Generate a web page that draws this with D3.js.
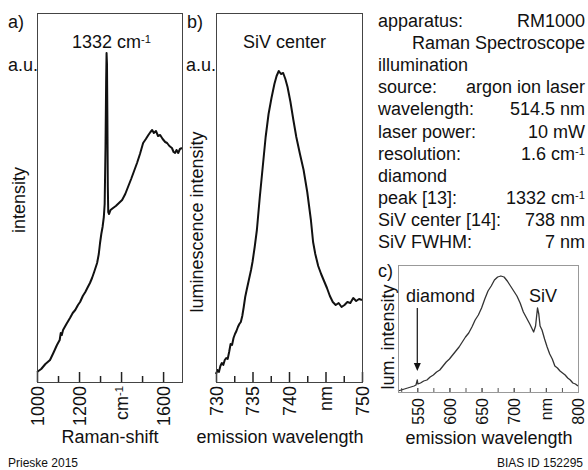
<!doctype html>
<html>
<head>
<meta charset="utf-8">
<script src="https://cdnjs.cloudflare.com/ajax/libs/d3/7.8.5/d3.min.js"></script>
<style>
body { margin: 0; background: #fff; }
svg { display: block; font-family: "Liberation Sans", Arial, sans-serif; }
</style>
</head>
<body>
<div id="viz"></div>
<script>
// a) Raman spectrum
var ramanShift = [1000,1020,1040,1062,1080,1095,1108,1113,1118,1124,1140,1157,1170,1182,1195,1205,1218,1230,1242,1252,1262,1272,1286,1294,1300,1306,1312,1318,1322,1326,1329,1331,1333,1335,1337,1339,1343,1350,1362,1375,1390,1405,1420,1433,1448,1462,1476,1490,1505,1518,1530,1540,1548,1556,1566,1576,1586,1598,1610,1619,1630,1642,1650,1657,1664,1672,1680,1690];
var ramanInt   = [10,13,18,22,30,37,42,49,47,52,58,64,69,72,77,80,86,90,95,99,104,110,119,128,139,148,155,165,178,235,300,329,318,262,195,170,168,172,174,176,179,182,188,195,203,211,219,228,239,243,247,250,252,249,251,246,247,243,240,239,236,234,230,229,232,229,233,234];
var ramanMajor = [1000, 1200, 1400, 1600];
var ramanMajorLabels = ["1000", "1200", "cm-1", "1600"];
var ramanMinor = [1100, 1300, 1500];

// b) SiV emission
var sivWl  = [730.0,730.2,730.4,730.6,730.8,731.0,731.2,731.4,731.6,731.8,732.0,732.2,732.4,732.6,732.8,733.0,733.2,733.4,733.6,733.8,734.0,734.2,734.5,734.8,735.0,735.3,735.6,736.0,736.4,736.8,737.2,737.6,738.0,738.3,738.6,738.9,739.2,739.5,739.8,740.2,740.6,741.0,741.5,742.0,742.5,743.0,743.3,743.6,744.0,744.4,744.8,745.2,745.6,746.0,746.4,746.8,747.2,747.6,748.0,748.4,748.8,749.2,749.6,750.0];
var sivInt = [8,12,10,16,19,17,22,24,23,30,38,37,44,48,51,55,58,60,66,75,85,92,102,112,120,135,152,185,215,245,268,284,298,306,311,308,309,303,295,280,262,245,228,212,190,162,140,128,116,108,101,94,86,80,77,79,75,77,80,79,84,81,83,82];
var sivMajor = [730, 735, 740, 745, 750];
var sivMajorLabels = ["730", "735", "740", "nm", "750"];
var sivMinor = [732.5, 737.5, 742.5, 747.5];

// c) broad luminescence
var lumWl  = [520,525,530,535,540,545,548,550,551,555,560,565,570,575,580,585,590,595,600,605,610,615,620,625,630,635,640,645,650,655,660,665,670,675,680,685,690,695,700,705,710,715,720,725,728,731,734,737,739,741,744,748,752,756,760,764,768,772,776,780,784,788,792,796,800];
var lumInt = [1,2,3,4,5,6,7,12,8,9,11,12,15,17,20,22,26,30,33,37,41,45,50,55,59,65,72,77,84,93,101,106,112,115,116,115,111,106,101,96,89,80,74,68,64,60,66,84,78,66,62,53,45,38,33,26,24,21,19,17,14,12,9,8,6];
var lumTicks = [525,550,575,600,625,650,675,700,725,750,775,800];
var lumMajor = [550, 600, 650, 700, 750, 800];
var lumMajorLabels = ["550", "600", "650", "700", "nm", "800"];

// parameter table
var paramLabels = ["apparatus:", "", "illumination", "source:", "wavelength:", "laser power:", "resolution:", "diamond", "peak [13]:", "SiV center [14]:", "SiV FWHM:"];
var paramValues = ["RM1000", "Raman Spectroscope", "", "argon ion laser", "514.5 nm", "10 mW", "1.6 cm-1", "", "1332 cm-1", "738 nm", "7 nm"];

var W = 588, H = 470;
var svg = d3.select("#viz").append("svg").attr("width", W).attr("height", H);
svg.append("rect").attr("width", W).attr("height", H).attr("fill", "#fff");

// writes "xxx cm-1" with a raised -1
function supText(sel, s) {
  var m = s.match(/^(.*)-1$/);
  if (!m) { sel.text(s); return; }
  sel.text(m[1]);
  sel.append("tspan").attr("dy", "-0.45em").attr("font-size", "0.62em").text("-1");
}

function panel(o) {
  var x = d3.scaleLinear().domain(o.xd).range([o.l, o.r]);
  var y = d3.scaleLinear().domain(o.yd).range([o.b, o.t]);

  var minor = d3.axisBottom(x).tickValues(o.minor).tickSize(-o.minorLen).tickFormat("");
  svg.append("g").attr("transform", "translate(0," + o.b + ")").call(minor)
    .call(function (g) { g.select(".domain").remove(); })
    .attr("color", o.tickColor).selectAll("line").attr("stroke-width", o.tickW);

  var major = d3.axisBottom(x).tickValues(o.major).tickSize(-o.majorLen)
    .tickFormat(function (d, i) { return o.labels[i]; });
  var ax = svg.append("g").attr("transform", "translate(0," + o.b + ")").call(major)
    .call(function (g) { g.select(".domain").remove(); })
    .attr("color", o.tickColor).attr("font-size", o.labelSize)
    .attr("font-family", "Liberation Sans, Arial, sans-serif");
  ax.selectAll("line").attr("stroke-width", o.tickW);
  ax.selectAll("text")
    .attr("fill", "#111")
    .attr("transform", "rotate(-90)")
    .attr("x", -o.labelGap).attr("y", 0).attr("dy", "0.36em")
    .attr("text-anchor", "end")
    .each(function (d, i) { supText(d3.select(this), o.labels[i]); });

  var line = d3.line().x(function (d) { return x(d[0]); }).y(function (d) { return y(d[1]); });
  svg.append("path").datum(d3.zip(o.xs, o.ys))
    .attr("d", line).attr("fill", "none")
    .attr("stroke", o.lineColor).attr("stroke-width", o.lineW)
    .attr("stroke-linejoin", "round");

  svg.append("rect")
    .attr("x", o.l + 0.5).attr("y", o.t + 0.5)
    .attr("width", o.r - o.l).attr("height", o.b - o.t)
    .attr("fill", "none").attr("stroke", o.frame).attr("stroke-width", 1);
  return x;
}

panel({ xd: [1000, 1690], yd: [0, 369], l: 37, r: 182, t: 13, b: 382,
  xs: ramanShift, ys: ramanInt, major: ramanMajor, labels: ramanMajorLabels, minor: ramanMinor,
  majorLen: 10, minorLen: 6, tickW: 1.5, tickColor: "#222", labelGap: 4, labelSize: 18,
  lineColor: "#111", lineW: 2, frame: "#444" });

panel({ xd: [730, 750], yd: [0, 369], l: 216, r: 362, t: 13, b: 382,
  xs: sivWl, ys: sivInt, major: sivMajor, labels: sivMajorLabels, minor: sivMinor,
  majorLen: 10, minorLen: 6, tickW: 1.5, tickColor: "#222", labelGap: 4, labelSize: 18,
  lineColor: "#111", lineW: 2, frame: "#444" });

var xc = panel({ xd: [520, 800], yd: [0, 127], l: 398, r: 578, t: 265, b: 392,
  xs: lumWl, ys: lumInt, major: lumMajor, labels: lumMajorLabels, minor: lumTicks,
  majorLen: 4, minorLen: 4, tickW: 1, tickColor: "#555", labelGap: 6, labelSize: 16,
  lineColor: "#333", lineW: 1.3, frame: "#999" });

function txt(x, y, s, anchor, size) {
  var t = svg.append("text").attr("x", x).attr("y", y)
    .attr("text-anchor", anchor || "start").attr("font-size", size || 18).attr("fill", "#111");
  supText(t, s);
  return t;
}
function vtxt(x, y, s) {
  svg.append("text").attr("transform", "translate(" + x + "," + y + ") rotate(-90)")
    .attr("text-anchor", "middle").attr("font-size", 18).attr("fill", "#111").text(s);
}

// panel a
txt(8, 28, "a)");
txt(72, 48, "1332 cm-1");
txt(8, 71, "a.u.");
vtxt(25, 200, "intensity");
txt(110, 443, "Raman-shift", "middle");

// panel b
txt(187, 28, "b)");
txt(243, 48, "SiV center");
txt(186, 71, "a.u.");
vtxt(203, 222, "luminescence intensity");
txt(280, 443, "emission wavelength", "middle");

// panel c
txt(378, 277, "c)");
txt(406, 302, "diamond");
txt(529, 302, "SiV");
vtxt(394, 337, "lum. intensity");
txt(489, 444, "emission wavelength", "middle");
var ax = xc(550);
svg.append("line").attr("x1", ax).attr("x2", ax).attr("y1", 308).attr("y2", 364)
  .attr("stroke", "#111").attr("stroke-width", 1.2);
svg.append("path").attr("d", "M" + (ax - 3.5) + ",363 L" + (ax + 3.5) + ",363 L" + ax + ",371 Z")
  .attr("fill", "#111");

// parameter table
paramLabels.forEach(function (s, i) {
  var yy = 27 + i * 22.1;
  if (s) txt(378, yy, s);
  if (paramValues[i]) txt(585, yy, paramValues[i], "end");
});

txt(8, 467, "Prieske 2015", "start", 12);
txt(583, 467, "BIAS ID 152295", "end", 12);
</script>
</body>
</html>
